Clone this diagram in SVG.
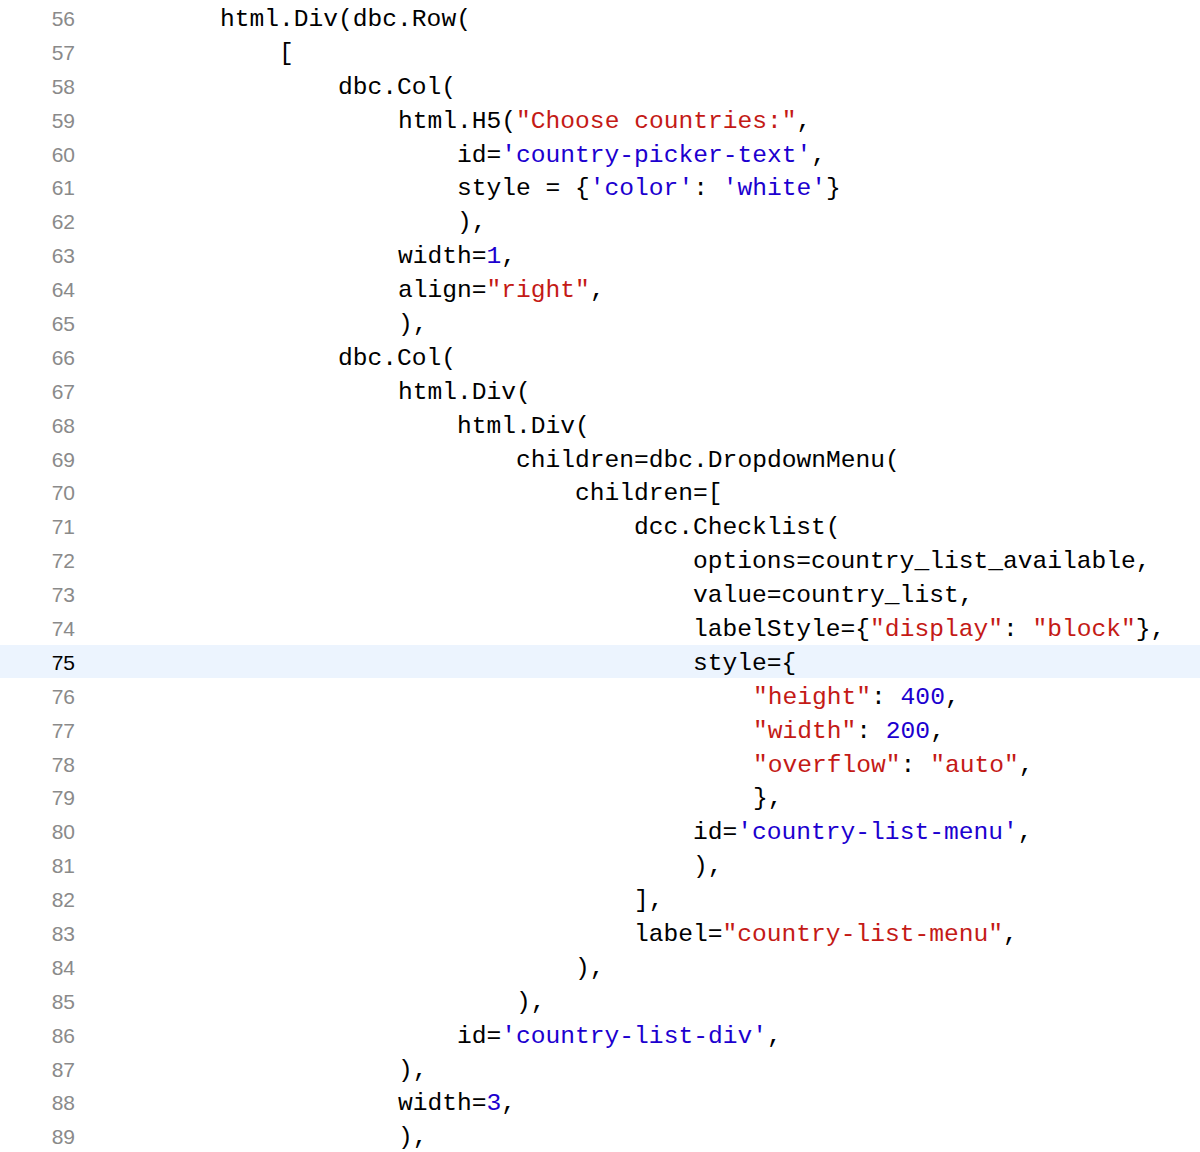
<svg xmlns="http://www.w3.org/2000/svg" width="1200" height="1152" viewBox="0 0 1200 1152">
<style>
text{font-family:"Liberation Mono","DejaVu Sans Mono",monospace;font-size:24.6px;fill:#000;white-space:pre}
.n{fill:#8a8a8a;text-anchor:end;font-family:"Liberation Sans","Noto Sans",sans-serif;font-size:21px}
.ncur{fill:#000}
.r{fill:#c41a16}
.b{fill:#1c00cf}
</style>
<rect width="1200" height="1152" fill="#fff"/>
<rect x="0" y="645" width="1200" height="33" fill="#ecf4fe"/>
<g id="numbers">
<text class="n" x="75" y="26">56</text><text class="n" x="75" y="60">57</text><text class="n" x="75" y="94">58</text><text class="n" x="75" y="128">59</text><text class="n" x="75" y="162">60</text><text class="n" x="75" y="195">61</text><text class="n" x="75" y="229">62</text><text class="n" x="75" y="263">63</text><text class="n" x="75" y="297">64</text><text class="n" x="75" y="331">65</text><text class="n" x="75" y="365">66</text><text class="n" x="75" y="399">67</text><text class="n" x="75" y="433">68</text><text class="n" x="75" y="467">69</text><text class="n" x="75" y="500">70</text><text class="n" x="75" y="534">71</text><text class="n" x="75" y="568">72</text><text class="n" x="75" y="602">73</text><text class="n" x="75" y="636">74</text><text class="n ncur" x="75" y="670">75</text><text class="n" x="75" y="704">76</text><text class="n" x="75" y="738">77</text><text class="n" x="75" y="772">78</text><text class="n" x="75" y="805">79</text><text class="n" x="75" y="839">80</text><text class="n" x="75" y="873">81</text><text class="n" x="75" y="907">82</text><text class="n" x="75" y="941">83</text><text class="n" x="75" y="975">84</text><text class="n" x="75" y="1009">85</text><text class="n" x="75" y="1043">86</text><text class="n" x="75" y="1077">87</text><text class="n" x="75" y="1110">88</text><text class="n" x="75" y="1144">89</text>
</g>
<g id="code">
<text x="220" y="26">html.Div(dbc.Row(</text>
<text x="279" y="60">[</text>
<text x="338" y="94">dbc.Col(</text>
<text x="398" y="128">html.H5(<tspan class="r">"Choose countries:"</tspan>,</text>
<text x="457" y="162">id=<tspan class="b">'country-picker-text'</tspan>,</text>
<text x="457" y="195">style = {<tspan class="b">'color'</tspan>: <tspan class="b">'white'</tspan>}</text>
<text x="457" y="229">),</text>
<text x="398" y="263">width=<tspan class="b">1</tspan>,</text>
<text x="398" y="297">align=<tspan class="r">"right"</tspan>,</text>
<text x="398" y="331">),</text>
<text x="338" y="365">dbc.Col(</text>
<text x="398" y="399">html.Div(</text>
<text x="457" y="433">html.Div(</text>
<text x="516" y="467">children=dbc.DropdownMenu(</text>
<text x="575" y="500">children=[</text>
<text x="634" y="534">dcc.Checklist(</text>
<text x="693" y="568">options=country_list_available,</text>
<text x="693" y="602">value=country_list,</text>
<text x="693" y="636">labelStyle={<tspan class="r">"display"</tspan>: <tspan class="r">"block"</tspan>},</text>
<text x="693" y="670">style={</text>
<text x="753" y="704"><tspan class="r">"height"</tspan>: <tspan class="b">400</tspan>,</text>
<text x="753" y="738"><tspan class="r">"width"</tspan>: <tspan class="b">200</tspan>,</text>
<text x="753" y="772"><tspan class="r">"overflow"</tspan>: <tspan class="r">"auto"</tspan>,</text>
<text x="753" y="805">},</text>
<text x="693" y="839">id=<tspan class="b">'country-list-menu'</tspan>,</text>
<text x="693" y="873">),</text>
<text x="634" y="907">],</text>
<text x="634" y="941">label=<tspan class="r">"country-list-menu"</tspan>,</text>
<text x="575" y="975">),</text>
<text x="516" y="1009">),</text>
<text x="457" y="1043">id=<tspan class="b">'country-list-div'</tspan>,</text>
<text x="398" y="1077">),</text>
<text x="398" y="1110">width=<tspan class="b">3</tspan>,</text>
<text x="398" y="1144">),</text>
</g>
</svg>
